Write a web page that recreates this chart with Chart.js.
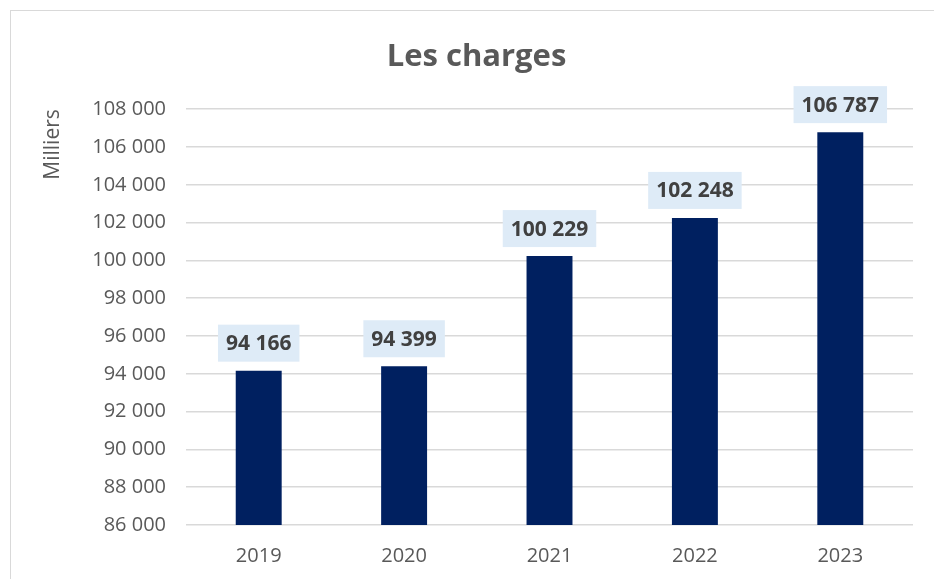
<!DOCTYPE html>
<html>
<head>
<meta charset="utf-8">
<script src="https://cdn.jsdelivr.net/npm/chart.js@4/dist/chart.umd.min.js"></script>
<style>
  html, body { margin: 0; padding: 0; background: #fff; }
  #frame { position: absolute; left: 10px; top: 10px; width: 930px; height: 575px;
           border-left: 1px solid #d9d9d9; border-top: 1px solid #d9d9d9; }
  #wrap { position: absolute; left: 0; top: 0; width: 934px; height: 579px; }
</style>
</head>
<body>
<div id="frame"></div>
<div id="wrap"><canvas id="chart"></canvas></div>
<script>
const years = ["2019", "2020", "2021", "2022", "2023"];
const charges = [94166, 94399, 100229, 102248, 106787];
const yMin = 86000;
const yMax = 108000;
const yStep = 2000;

const fmt = v => String(Math.round(v)).replace(/\B(?=(\d{3})+(?!\d))/g, " ");
const FONT = "'Open Sans', sans-serif";

// étiquettes de données avec fond bleu clair
const labelBoxes = {
  id: "labelBoxes",
  afterDatasetsDraw(chart) {
    const ctx = chart.ctx;
    const meta = chart.getDatasetMeta(0);
    ctx.save();
    ctx.font = "bold 21px " + FONT;
    ctx.textAlign = "center";
    ctx.textBaseline = "middle";
    meta.data.forEach((bar, i) => {
      const txt = fmt(charges[i]);
      const w = ctx.measureText(txt).width + 16;
      const h = 37;
      const bottom = bar.y - 9;
      ctx.fillStyle = "#deebf7";
      ctx.fillRect(bar.x - w / 2, bottom - h, w, h);
      ctx.fillStyle = "#404040";
      ctx.fillText(txt, bar.x, bottom - h / 2 + 1);
    });
    ctx.restore();
  }
};

new Chart(document.getElementById("chart"), {
  type: "bar",
  data: {
    labels: years,
    datasets: [{
      label: "Charges",
      data: charges,
      backgroundColor: "#002060",
      categoryPercentage: 1,
      barPercentage: 0.316
    }]
  },
  options: {
    responsive: true,
    maintainAspectRatio: false,
    animation: false,
    layout: { padding: { left: 40, right: 21, top: 31, bottom: 0 } },
    plugins: {
      legend: { display: false },
      tooltip: { enabled: false },
      title: {
        display: true,
        text: "Les charges",
        color: "#595959",
        font: { family: FONT, size: 31, weight: "bold" },
        padding: { top: 8, bottom: 33 }
      }
    },
    scales: {
      x: {
        grid: { display: false },
        border: { display: false },
        ticks: { color: "#595959", font: { family: FONT, size: 20 }, padding: 11 }
      },
      y: {
        min: yMin,
        max: yMax,
        grid: { color: "#d9d9d9", lineWidth: 1.5, drawTicks: false },
        border: { display: false },
        ticks: {
          stepSize: yStep,
          color: "#595959",
          font: { family: FONT, size: 20 },
          padding: 20,
          callback: v => fmt(v)
        },
        title: {
          display: true,
          text: "Milliers",
          align: "end",
          color: "#595959",
          font: { family: FONT, size: 21 },
          padding: { top: 0, bottom: 7 }
        }
      }
    }
  },
  plugins: [labelBoxes]
});
</script>
</body>
</html>
